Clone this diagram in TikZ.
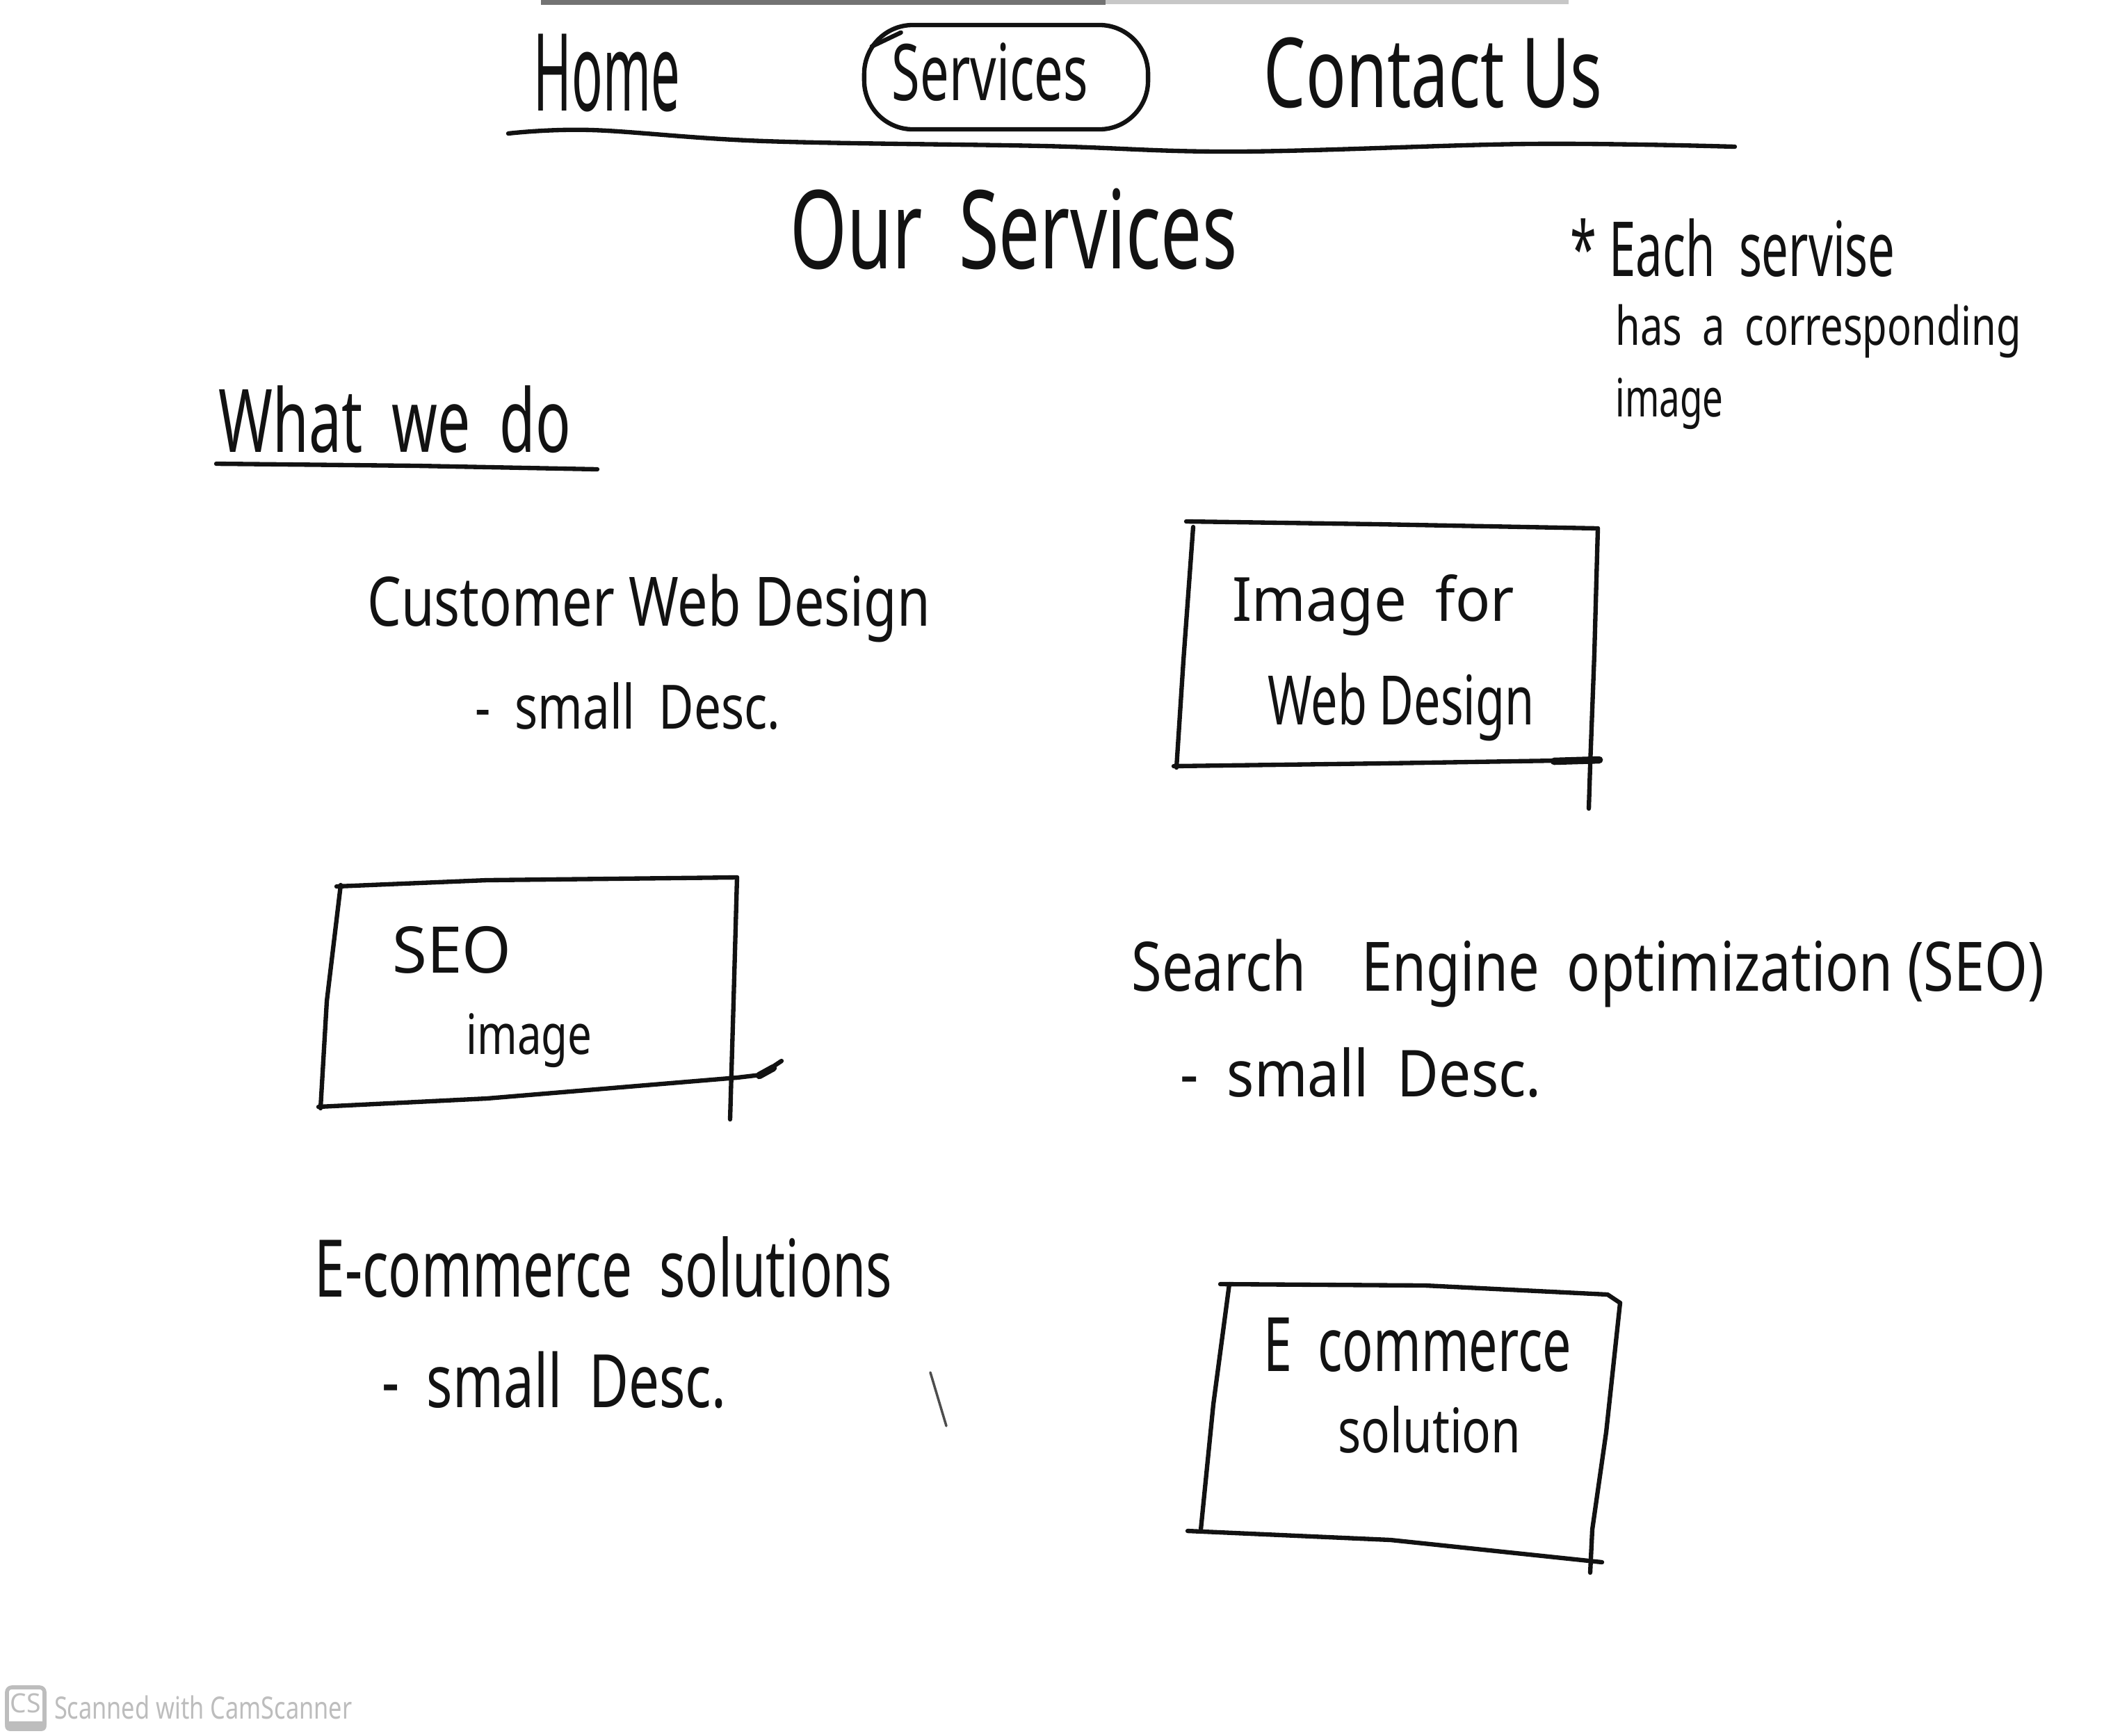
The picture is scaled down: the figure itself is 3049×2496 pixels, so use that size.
\documentclass[tikz,border=0pt]{standalone}
\usepackage{graphicx}
\usepackage{fontspec}
\setmainfont{Noto Sans}
\usetikzlibrary{calc}
\definecolor{ink}{HTML}{121212}
\definecolor{scangray}{HTML}{BDBDBD}
% text scaled into a box of given width and total height (in cm)
\newcommand{\hw}[3]{\resizebox*{#1cm}{#2cm}{#3}}
\tikzset{
  pen/.style={draw=ink, line width=1.8pt, line cap=round, line join=round},
  hand/.style={inner sep=0pt, outer sep=0pt, anchor=center, text=ink},
  wmark/.style={inner sep=0pt, outer sep=0pt, text=scangray},
}
\begin{document}
\begin{tikzpicture}[x=0.01cm, y=-0.01cm]
\useasboundingbox (0,0) rectangle (3049,2496);
\fill[white] (0,0) rectangle (3049,2496);

% scanner edge band along the top
\fill[black!55] (778,0) rectangle (1590,7);
\fill[black!22] (1590,0) rectangle (2256,6);

% ---- navigation bar ----
\node[hand] (home) at (873,105) {\hw{2.10}{1.12}{Home}};
\node[hand] (services) at (1424,104) {\hw{2.82}{0.84}{Services}};
\node[pen, rounded corners=0.7cm, minimum width=4.08cm, minimum height=1.50cm, inner sep=0pt] (svcring) at (1447,111) {};
\draw[pen] ($(svcring.north west)+(14,34)$) -- ++(42,-20);
\node[hand] (contact) at (2061,105) {\hw{4.86}{1.02}{Contact Us}};

\coordinate (navL) at (731,192);
\coordinate (navR) at (2495,211);
\draw[pen] plot[smooth, tension=0.6] coordinates {(navL) (850,187) (1100,203) (1500,210) (1780,218) (2200,207) (navR)};

% ---- heading and note ----
\node[hand] (title) at (1458,330) {\hw{6.42}{1.17}{Our\hspace{0.5em}Services}};

\node[hand] (note1) at (2492,357) {\hw{4.67}{0.84}{* Each\enspace servise}};
\node[hand] (note2) at (2615,476) {\hw{5.83}{0.77}{has\enspace a\enspace corresponding}};
\node[hand] (note3) at (2401,581) {\hw{1.55}{0.74}{image}};

% ---- section heading ----
\node[hand] (whatwedo) at (568,603) {\hw{5.06}{0.97}{What\enspace we\enspace do}};
\coordinate (ulL) at (311,667);
\coordinate (ulR) at (859,675);
\draw[pen] (ulL) -- (600,670) -- (ulR);

% ---- service 1: web design ----
\node[hand] (web) at (933,875) {\hw{8.09}{0.98}{Customer Web Design}};
\node[hand] (webdesc) at (903,1016) {\hw{4.38}{0.68}{-\enspace small\enspace Desc.}};

\draw[pen] (1706,750) -- (1980,754) -- (2298,760);
\draw[pen] (2298,760) -- (2293,940) -- (2287,1100) -- (2285,1163);
\draw[pen] (1716,758) -- (1702,950) -- (1692,1104);
\draw[pen] (1688,1102) -- (1990,1098) -- (2302,1093);
\draw[pen, line width=3pt] (2235,1095) -- (2300,1093);
\node[hand] (webimg1) at (1975,870) {\hw{4.05}{0.88}{Image\enspace for}};
\node[hand] (webimg2) at (2015,1017) {\hw{3.83}{0.98}{Web Design}};

% ---- service 2: SEO ----
\draw[pen] (484,1275) -- (700,1266) -- (1060,1262);
\draw[pen] (1060,1262) -- (1055,1440) -- (1050,1610);
\draw[pen] (490,1273) -- (470,1440) -- (461,1594);
\draw[pen] (458,1592) -- (700,1580) -- (1060,1550) -- (1094,1546) -- (1124,1526);
\draw[pen, line width=3pt] (1092,1547) -- (1112,1536);
\node[hand] (seoimg1) at (650,1366) {\hw{1.71}{0.68}{SEO}};
\node[hand] (seoimg2) at (761,1497) {\hw{1.81}{0.78}{image}};

\node[hand] (seo) at (2284,1400) {\hw{13.12}{0.98}{Search\quad Engine\enspace optimization (SEO)}};
\node[hand] (seodesc) at (1957,1543) {\hw{5.19}{0.72}{-\enspace small\enspace Desc.}};

% ---- service 3: e-commerce ----
\node[hand] (ecom) at (868,1823) {\hw{8.30}{0.88}{E-commerce\enspace solutions}};
\node[hand] (ecomdesc) at (797,1985) {\hw{4.94}{0.82}{-\enspace small\enspace Desc.}};

\draw[pen] (1755,1847) -- (2050,1849) -- (2312,1862) -- (2330,1874);
\draw[pen] (2330,1874) -- (2310,2060) -- (2290,2200) -- (2287,2262);
\draw[pen] (1768,1847) -- (1745,2020) -- (1727,2200);
\draw[pen] (1708,2202) -- (2000,2215) -- (2304,2247);
\node[hand] (ecomimg1) at (2039,1935) {\hw{4.42}{0.78}{E\enspace commerce}};
\node[hand] (ecomimg2) at (2056,2056) {\hw{2.63}{0.68}{solution}};

% stray pen stroke
\draw[draw=ink!75, line width=1pt, line cap=round] (1338,1974) -- (1361,2051);

% ---- scanner watermark ----
\node[draw=scangray, fill=white, line width=1.6pt, rounded corners=2pt, minimum width=0.54cm, minimum height=0.60cm, inner sep=0pt] (cslogo) at (37,2457) {};
\fill[scangray, rounded corners=2pt] (cslogo.south west) rectangle ($(cslogo.south east)+(0,-14)$);
\node[wmark, font=\bfseries] (cstag) at (37,2450) {\hw{0.44}{0.28}{CS}};
\node[wmark, anchor=west] (cstext) at (78,2456) {\hw{4.28}{0.34}{Scanned with CamScanner}};
\end{tikzpicture}
\end{document}
